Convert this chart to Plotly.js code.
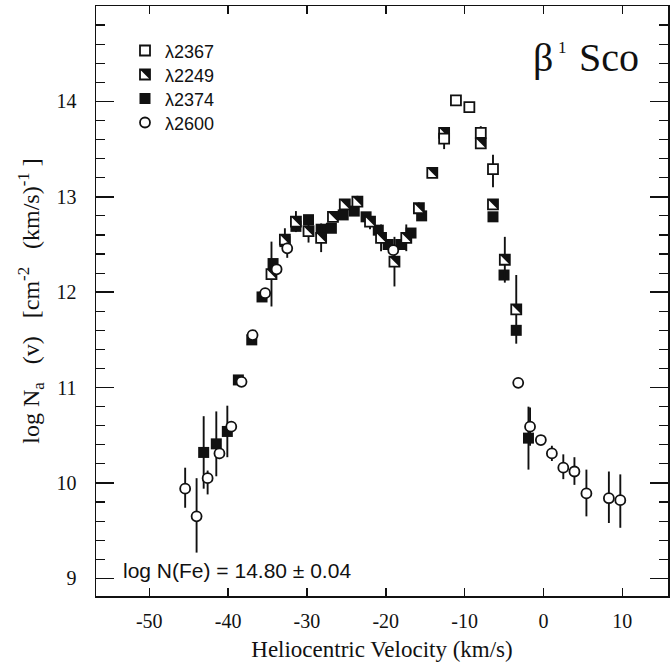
<!DOCTYPE html>
<html>
<head>
<meta charset="utf-8">
<script src="https://cdn.plot.ly/plotly-3.0.1.min.js"></script>
<style>
html,body{margin:0;padding:0;background:#fff;}
#chart{width:672px;height:666px;}
</style>
</head>
<body>
<div id="chart"></div>
<script>
// ---- data ----
// λ2367 (open squares)
const v2367 = [-12.6, -11.1, -9.4, -7.95, -6.4];
const n2367 = [13.61, 14.01, 13.94, 13.67, 13.29];
const e2367p = [0.06, 0, 0, 0.07, 0.15];
const e2367m = [0.11, 0, 0, 0.06, 0.19];

// λ2249 (half-filled squares)
const v2249 = [-34.5, -32.8, -31.4, -29.8, -28.2, -26.7, -25.2, -23.6, -22.0, -20.6, -18.9, -17.4, -15.8, -14.1, -12.6, -7.95, -6.4, -4.9, -3.45];
const n2249 = [12.19, 12.55, 12.74, 12.64, 12.57, 12.79, 12.92, 12.95, 12.74, 12.57, 12.32, 12.57, 12.88, 13.25, 13.67, 13.56, 12.92, 12.34, 11.82];
const e2249 = [0.34, 0.12, 0.11, 0.12, 0.15, 0, 0, 0.06, 0.08, 0.14, 0.26, 0.14, 0.06, 0, 0, 0, 0, 0.24, 0.36];

// λ2374 (filled squares)
const v2374 = [-43.1, -41.5, -40.1, -38.7, -37.0, -35.7, -34.3, -32.8, -31.4, -29.8, -28.2, -26.9, -25.4, -24.0, -22.5, -20.95, -19.7, -18.1, -16.8, -15.45, -6.4, -5.0, -3.45, -1.9];
const n2374 = [10.32, 10.41, 10.54, 11.08, 11.50, 11.95, 12.30, 12.53, 12.69, 12.76, 12.66, 12.67, 12.81, 12.85, 12.79, 12.65, 12.50, 12.50, 12.62, 12.80, 12.79, 12.18, 11.60, 10.47];
const e2374 = [0.38, 0.34, 0.27, 0, 0, 0, 0, 0, 0, 0, 0, 0, 0, 0, 0, 0, 0, 0, 0, 0, 0, 0, 0, 0.33];

// λ2600 (open circles)
const v2600 = [-45.45, -44.0, -42.6, -41.1, -39.6, -38.3, -36.9, -35.3, -33.85, -32.5, -19.05, -3.2, -1.7, -0.33, 1.07, 2.52, 3.93, 5.45, 8.3, 9.75];
const n2600 = [9.94, 9.65, 10.05, 10.31, 10.59, 11.06, 11.55, 11.99, 12.24, 12.46, 12.44, 11.05, 10.59, 10.45, 10.31, 10.16, 10.12, 9.89, 9.84, 9.82];
const e2600p = [0.22, 0.40, 0.08, 0.06, 0, 0, 0, 0, 0, 0.06, 0, 0, 0.20, 0.03, 0.08, 0.14, 0.15, 0.25, 0.28, 0.27];
const e2600m = [0.20, 0.38, 0.17, 0.06, 0, 0, 0, 0, 0, 0.10, 0, 0, 0.20, 0.03, 0.08, 0.12, 0.14, 0.24, 0.26, 0.29];

const seriesNames = ['λ2367', 'λ2249', 'λ2374', 'λ2600'];
const xTickVals = [-50, -40, -30, -20, -10, 0, 10];
const xTickText = ['-50', '-40', '-30', '-20', '-10', '0', '10'];
const yTickVals = [9, 10, 11, 12, 13, 14];
const yTickText = ['9', '10', '11', '12', '13', '14'];

// ---- styling ----
const INK = '#111';
const SERIF = 'Liberation Serif, Times New Roman, serif';
const SANS = 'Liberation Sans, Arial, sans-serif';
const W = 672, H = 666;
const M = {l: 96, r: 4, t: 6, b: 70};
const PW = W - M.l - M.r, PH = H - M.t - M.b;
const xRange = [-56.76, 15.80];
const yRange = [8.815, 15.0];
const SQ = 10;                 // square marker size (px side)
const TRI = SQ / 0.9;          // triangle-ne marker size so its box matches the square
const triR = TRI / 2;
const triOff = 0.3 * triR;     // triangle-ne box centre sits 0.3r left & down of origin
const dxShift = triOff / (PW / (xRange[1] - xRange[0]));
const dyShift = triOff / (PH / (yRange[1] - yRange[0]));

function errBar(p, m) {
  return {type: 'data', symmetric: m === undefined, array: p, arrayminus: m,
          color: INK, thickness: 1.9, width: 0};
}

const traces = [
  { // λ2374 filled
    x: v2374, y: n2374, name: seriesNames[2], legend: 'legend3',
    type: 'scatter', mode: 'markers',
    marker: {symbol: 'square', size: SQ + 1, color: INK, line: {width: 0}},
    error_y: errBar(e2374)
  },
  { // λ2249 half squares (outline)
    x: v2249, y: n2249, name: seriesNames[1], legend: 'legend2',
    type: 'scatter', mode: 'markers',
    marker: {symbol: 'square', size: SQ, color: '#fff', line: {width: 1.8, color: INK}},
    error_y: errBar(e2249)
  },
  { // λ2249 black half (triangle)
    x: v2249, y: n2249, name: ' ', legend: 'legend5',
    xaxis: 'x2', yaxis: 'y2',
    type: 'scatter', mode: 'markers',
    marker: {symbol: 'triangle-ne', size: TRI, color: INK, line: {width: 0}}
  },
  { // λ2600 circles
    x: v2600, y: n2600, name: seriesNames[3], legend: 'legend4',
    xaxis: 'x3', yaxis: 'y3',
    type: 'scatter', mode: 'markers',
    marker: {symbol: 'circle', size: SQ, color: '#fff', line: {width: 1.8, color: INK}},
    error_y: errBar(e2600p, e2600m)
  },
  { // λ2367 open squares
    x: v2367, y: n2367, name: seriesNames[0], legend: 'legend',
    xaxis: 'x3', yaxis: 'y3',
    type: 'scatter', mode: 'markers',
    marker: {symbol: 'square', size: SQ, color: '#fff', line: {width: 1.8, color: INK}},
    error_y: errBar(e2367p, e2367m)
  }
];

const LEG_FONT = 18;
const rowH = LEG_FONT * 1.3 + 3;
const legSymX = 145;                 // legend symbol centre (px)
const rowY = [49, 73, 97, 121];      // legend row centres (px)
function legBox(rowCenter, dxPx, dyPx) {
  return {
    x: (legSymX - 20 - M.l + (dxPx || 0)) / PW,
    y: 1 - (rowCenter - (rowH / 2 + 3.5) - M.t + (dyPx || 0)) / PH,
    xanchor: 'left', yanchor: 'top',
    bgcolor: 'rgba(0,0,0,0)', borderwidth: 0,
    font: {family: SANS, size: LEG_FONT, color: INK},
    itemwidth: 30
  };
}

const layout = {
  width: W, height: H,
  margin: M,
  paper_bgcolor: '#fff', plot_bgcolor: '#fff',
  showlegend: true,
  font: {family: SERIF, color: INK},
  xaxis: {
    range: xRange, showgrid: false, zeroline: false,
    showline: true, linecolor: INK, linewidth: 1.5, mirror: 'ticks',
    ticks: 'inside', ticklen: 8, tickwidth: 1.5, tickcolor: INK,
    tickvals: xTickVals, ticktext: xTickText,
    tickfont: {family: SERIF, size: 20, color: INK},
    ticklabelstandoff: 6,
    title: {text: 'Heliocentric Velocity (km/s)', font: {family: SERIF, size: 23, color: INK}, standoff: 10}
  },
  yaxis: {
    range: yRange, showgrid: false, zeroline: false,
    showline: true, linecolor: INK, linewidth: 1.5, mirror: 'ticks',
    ticks: 'inside', ticklen: 18, tickwidth: 1.5, tickcolor: INK,
    tickvals: yTickVals, ticktext: yTickText,
    tickfont: {family: SERIF, size: 20, color: INK},
    ticklabelstandoff: 14,
    minor: {dtick: 0.2, ticks: 'inside', ticklen: 9, tickwidth: 1.2, tickcolor: INK, showgrid: false},
    title: {text: 'log N<sub>a</sub>\u00a0\u00a0\u00a0(v)\u00a0\u00a0\u00a0[cm<sup>-2</sup>\u00a0\u00a0\u00a0(km/s)<sup>-1</sup>\u00a0]',
            font: {family: SERIF, size: 24, color: INK}, standoff: 10}
  },
  xaxis2: {overlaying: 'x', range: [xRange[0] - dxShift, xRange[1] - dxShift], visible: false},
  yaxis2: {overlaying: 'y', range: [yRange[0] - dyShift, yRange[1] - dyShift], visible: false},
  xaxis3: {overlaying: 'x', range: xRange, visible: false},
  yaxis3: {overlaying: 'y', range: yRange, visible: false},
  legend: legBox(rowY[0]),
  legend2: legBox(rowY[1]),
  legend3: legBox(rowY[2]),
  legend4: legBox(rowY[3]),
  legend5: legBox(rowY[1], triOff, -triOff),
  annotations: [
    {text: 'β', xref: 'paper', yref: 'paper', x: (531 - M.l) / PW, y: 1 - (58 - M.t) / PH,
     xanchor: 'left', yanchor: 'middle', showarrow: false,
     font: {family: SERIF, size: 40, color: INK}},
    {text: '1', xref: 'paper', yref: 'paper', x: (556 - M.l) / PW, y: 1 - (48 - M.t) / PH,
     xanchor: 'left', yanchor: 'middle', showarrow: false,
     font: {family: SERIF, size: 17, color: INK}},
    {text: 'Sco', xref: 'paper', yref: 'paper', x: (577 - M.l) / PW, y: 1 - (58 - M.t) / PH,
     xanchor: 'left', yanchor: 'middle', showarrow: false,
     font: {family: SERIF, size: 40, color: INK}},
    {text: 'log N(Fe) = 14.80 ± 0.04', xref: 'paper', yref: 'paper',
     x: (121 - M.l) / PW, y: 1 - (570 - M.t) / PH,
     xanchor: 'left', yanchor: 'middle', showarrow: false,
     font: {family: SANS, size: 21, color: INK}}
  ]
};

Plotly.newPlot('chart', traces, layout, {displayModeBar: false, staticPlot: true});
</script>
</body>
</html>
